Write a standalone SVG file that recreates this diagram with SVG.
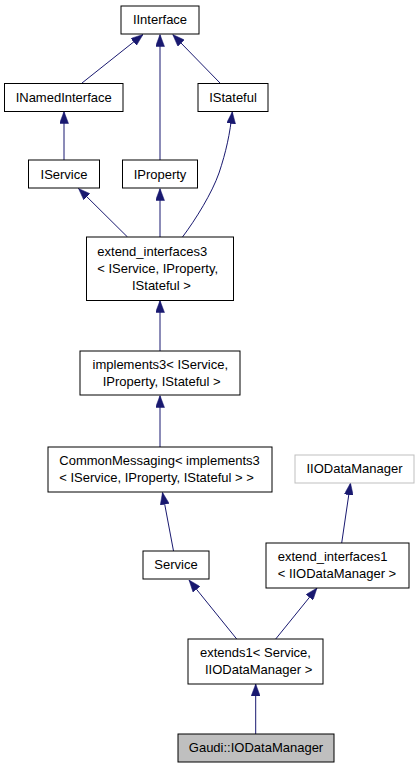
<svg xmlns="http://www.w3.org/2000/svg" width="419" height="768" viewBox="0 0 419 768">
<style>
.n rect{fill:#ffffff;stroke:#000000;stroke-width:1}
.n text{font-family:"Liberation Sans",Arial,Helvetica,sans-serif;font-size:13px;fill:#000000}
.m{text-anchor:middle}
.e path{fill:none;stroke:#191970;stroke-width:1}
</style>
<defs>
<marker id="arr" viewBox="0 0 12 9" refX="12" refY="4.5" markerWidth="12" markerHeight="9" markerUnits="userSpaceOnUse" orient="auto">
<path d="M0,0 L12,4.5 L0,9 Z" fill="#191970" stroke="#191970" stroke-width="0.5"/>
</marker>
</defs>
<rect width="419" height="768" fill="#ffffff"/>
<g id="connectors" class="e">
<path d="M82,83 L143,34.5" marker-end="url(#arr)"/>
<path d="M160,160 L160,34.5" marker-end="url(#arr)"/>
<path d="M220,83 L172.7,34.5" marker-end="url(#arr)"/>
<path d="M64,160 L64,111.5" marker-end="url(#arr)"/>
<path d="M127.5,237 L78.5,188.5" marker-end="url(#arr)"/>
<path d="M160,237 L160,188.5" marker-end="url(#arr)"/>
<path d="M182.5,237 C196,219 212,193 219,173 C226,152 230,134 232.3,111.7" marker-end="url(#arr)"/>
<path d="M160,351 L160,300.5" marker-end="url(#arr)"/>
<path d="M160,447 L160,395.5" marker-end="url(#arr)"/>
<path d="M173.5,551 L162.5,492.5" marker-end="url(#arr)"/>
<path d="M341.7,543 L350.5,483" marker-end="url(#arr)"/>
<path d="M236.7,639 L189,580" marker-end="url(#arr)"/>
<path d="M275.7,639 L317,588" marker-end="url(#arr)"/>
<path d="M255.7,734 L255.7,684" marker-end="url(#arr)"/>
</g>
<g id="IInterface" class="n"><rect x="121" y="6" width="78" height="28"/><text class="m" x="160" y="23.5">IInterface</text></g>
<g id="INamedInterface" class="n"><rect x="4.5" y="83.5" width="118.5" height="28"/><text class="m" x="63.7" y="101.5">INamedInterface</text></g>
<g id="IStateful" class="n"><rect x="198" y="83.5" width="70" height="28"/><text class="m" x="233" y="101.5">IStateful</text></g>
<g id="IService" class="n"><rect x="28.5" y="160" width="71" height="28"/><text class="m" x="64" y="178.5">IService</text></g>
<g id="IProperty" class="n"><rect x="122.5" y="160" width="75" height="28"/><text class="m" x="160" y="178.5">IProperty</text></g>
<g id="extend_interfaces3" class="n"><rect x="86.5" y="237" width="147" height="63.5"/><text x="97.3" y="256">extend_interfaces3</text><text x="97.3" y="273">&lt; IService, IProperty,</text><text x="132" y="290">IStateful &gt;</text></g>
<g id="implements3" class="n"><rect x="80" y="351" width="160" height="44"/><text class="m" x="160.3" y="369">implements3&lt; IService,</text><text class="m" x="161.7" y="386">IProperty, IStateful &gt;</text></g>
<g id="CommonMessaging" class="n"><rect x="48" y="447" width="224" height="45"/><text x="59.3" y="465">CommonMessaging&lt; implements3</text><text x="59.3" y="482">&lt; IService, IProperty, IStateful &gt; &gt;</text></g>
<g id="IIODataManager" class="n"><rect x="295" y="455" width="119" height="28" style="stroke:#bfbfbf"/><text class="m" x="354.5" y="473">IIODataManager</text></g>
<g id="Service" class="n"><rect x="143" y="551" width="66" height="28"/><text class="m" x="176" y="569">Service</text></g>
<g id="extend_interfaces1" class="n"><rect x="266" y="543" width="143" height="45"/><text x="277.7" y="561">extend_interfaces1</text><text x="277.7" y="578">&lt; IIODataManager &gt;</text></g>
<g id="extends1" class="n"><rect x="188" y="639" width="135" height="45"/><text class="m" x="255.5" y="657">extends1&lt; Service,</text><text x="205" y="674">IIODataManager &gt;</text></g>
<g id="Gaudi_IODataManager" class="n"><rect x="178" y="734" width="156" height="28" style="fill:#bfbfbf"/><text class="m" x="256" y="752">Gaudi::IODataManager</text></g>
</svg>
